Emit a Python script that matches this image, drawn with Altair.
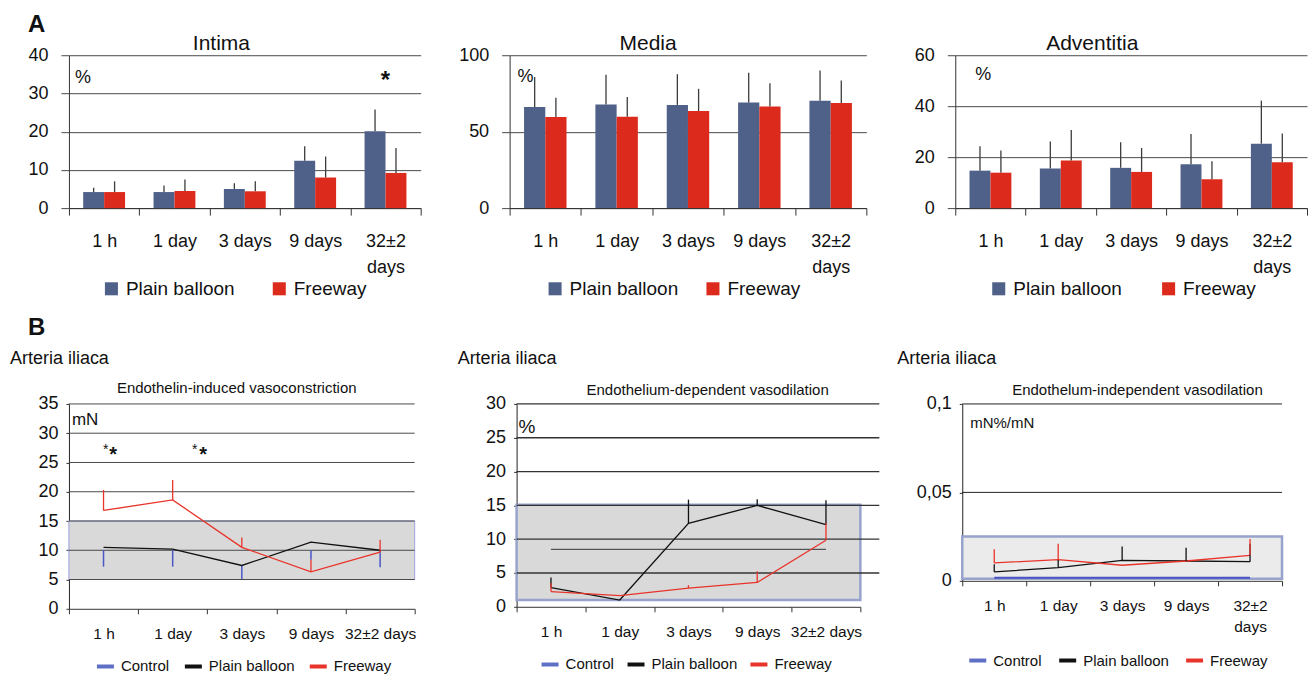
import altair as alt
import pandas as pd

# ---------------- data ----------------
CATS = ["1 h", "1 day", "3 days", "9 days", "32±2 days"]
BAR_SERIES = ["Plain balloon", "Freeway"]
LINE_SERIES = ["Control", "Plain balloon", "Freeway"]

# Panel A: morphometry (%), mean and upper end of error bar
intima_plain = [4.2, 4.2, 5.0, 12.4, 20.1]
intima_plain_hi = [5.3, 5.9, 6.5, 16.2, 25.8]
intima_free = [4.2, 4.5, 4.4, 8.0, 9.2]
intima_free_hi = [7.0, 7.5, 7.0, 13.5, 15.7]

media_plain = [66.2, 67.7, 67.5, 69.0, 70.3]
media_plain_hi = [85.8, 87.3, 87.6, 88.6, 90.0]
media_free = [59.6, 59.8, 63.5, 66.4, 68.8]
media_free_hi = [72.1, 72.7, 78.0, 81.7, 83.4]

adv_plain = [14.7, 15.5, 15.8, 17.2, 25.3]
adv_plain_hi = [24.3, 26.1, 25.8, 29.1, 42.2]
adv_free = [13.9, 18.7, 14.2, 11.3, 18.0]
adv_free_hi = [22.6, 30.7, 23.6, 18.4, 29.3]

# Panel B1: endothelin-induced vasoconstriction (mN)
vc_plain = [10.5, 10.2, 7.4, 11.4, 10.0]
vc_free = [16.8, 18.6, 10.5, 6.3, 9.7]
vc_free_hi = [20.3, 22.0, 12.2, 8.4, 11.8]
vc_ctrl_top = [10.0, 10.0, 7.4, 10.0, 10.0]
vc_ctrl_low = [7.2, 7.2, 5.1, 8.4, 7.1]
vc_box = [5.0, 15.0]

# Panel B2: endothelium-dependent vasodilation (%)
ed_plain = [2.85, 1.0, 12.35, 15.0, 12.15]
ed_plain_hi = [4.35, None, 15.85, 15.9, 15.75]
ed_free = [2.25, 1.65, 2.75, 3.6, 9.85]
ed_free_hi = [3.5, None, 3.2, 5.25, 12.35]
ed_ctrl = 8.5
ed_box = [1.0, 15.1]

# Panel B3: endothelium-independent vasodilation (mN%/mN)
ei_plain = [0.0050, 0.0075, 0.0116, 0.0112, 0.0108]
ei_plain_hi = [0.0093, 0.0118, 0.0194, 0.0187, 0.0209]
ei_free = [0.0101, 0.0120, 0.0088, 0.0112, 0.0144]
ei_free_hi = [0.0178, 0.0209, None, None, 0.0236]
ei_ctrl = 0.0017
ei_box = [0.0011, 0.025]

# ---------------- style ----------------
FONT = "Liberation Sans, Arial, sans-serif"
INK = "#111111"
BAR_COLORS = ["#4f6189", "#dc2b1d"]
LINE_COLORS = ["#5f6fc6", "#111111", "#e8342a"]
TWO_LINE = "datum.label == '32±2 days' ? ['32±2', 'days'] : datum.label"


def text_layer(txt, x, y, size, weight="normal", align="left"):
    return alt.Chart(pd.DataFrame({"t": [txt]})).mark_text(
        align=align, baseline="alphabetic", fontSize=size, font=FONT,
        fontWeight=weight, color=INK
    ).encode(text="t:N", x=alt.value(x), y=alt.value(y))


def bar_panel(title, plain, plain_hi, free, free_hi, ymax, yticks, width,
              title_x, legend_x, legend_pad, pct_xy, extra=()):
    rows = []
    for i, c in enumerate(CATS):
        rows.append(dict(cat=c, series="Plain balloon", v=plain[i], hi=plain_hi[i]))
        rows.append(dict(cat=c, series="Freeway", v=free[i], hi=free_hi[i]))
    df = pd.DataFrame(rows)
    x = alt.X("cat:N", sort=CATS, title=None,
              scale=alt.Scale(type="band", paddingInner=0, paddingOuter=0),
              axis=alt.Axis(tickBand="extent", tickSize=7, tickColor="#333",
                            domainColor="#333", labelPadding=17, labelFont=FONT,
                            labelFontSize=18, labelColor=INK, labelExpr=TWO_LINE,
                            labelLineHeight=26, labelAngle=0, grid=False))
    y = alt.Y("v:Q", title=None, scale=alt.Scale(domain=[0, ymax], nice=False),
              axis=alt.Axis(values=yticks, grid=True, gridColor="#4a4a4a",
                            tickSize=8, tickColor="#4a4a4a", domainColor="#333",
                            labelPadding=13, labelFont=FONT, labelFontSize=18,
                            labelColor=INK))
    xo = alt.XOffset("series:N", sort=BAR_SERIES,
                     scale=alt.Scale(paddingOuter=0.68, paddingInner=0))
    color = alt.Color("series:N", sort=BAR_SERIES,
                      scale=alt.Scale(domain=BAR_SERIES, range=BAR_COLORS),
                      legend=alt.Legend(orient="none", legendX=legend_x, legendY=224,
                                        direction="horizontal", columns=2, title=None,
                                        symbolType="square", symbolSize=170,
                                        symbolStrokeWidth=0, labelFont=FONT,
                                        labelFontSize=19, labelColor=INK,
                                        labelOffset=5, columnPadding=legend_pad))
    base = alt.Chart(df)
    bars = base.mark_bar().encode(x=x, y=y, xOffset=xo, color=color)
    err = base.mark_rule(color="#3c3c3c", strokeWidth=1.3).encode(
        x=x, y=y, y2="hi:Q", xOffset=xo)
    layers = [bars, err, text_layer("%", pct_xy[0], pct_xy[1], 18),
              text_layer(title, title_x, -5, 21)]
    for e in extra:
        layers.append(e(x, y))
    return alt.layer(*layers).properties(width=width, height=153)


def intima_star(x, y):
    return alt.Chart(pd.DataFrame({"cat": ["32±2 days"], "v": [31.3], "t": ["*"]})).mark_text(
        align="center", baseline="alphabetic", fontSize=24, fontWeight="bold",
        font=FONT, color=INK).encode(x=x, y=y, text="t:N")


def line_x(two_line, bandpos=None, lh=21):
    kw = dict(sort=CATS, title=None,
              scale=alt.Scale(type="band", paddingInner=0, paddingOuter=0),
              axis=alt.Axis(tickBand="extent", tickSize=5, tickColor="#333",
                            domainColor="#333", labelPadding=13, labelFont=FONT,
                            labelFontSize=15.5, labelColor=INK, labelAngle=0, grid=False,
                            labelExpr=TWO_LINE if two_line else "datum.label",
                            labelLineHeight=lh))
    if bandpos is not None:
        kw["bandPosition"] = bandpos
    return alt.X("cat:N", **kw)


def line_y(ymax, yticks, label_expr=None):
    ax = dict(values=yticks, grid=False, tickSize=3, tickColor="#333",
              domainColor="#222", labelPadding=8, labelFont=FONT, labelFontSize=18,
              labelColor=INK)
    if label_expr:
        ax["labelExpr"] = label_expr
    return alt.Y("v:Q", title=None, scale=alt.Scale(domain=[0, ymax], nice=False),
                 axis=alt.Axis(**ax))


def line_color(lx, ly, pad):
    return alt.Color("series:N",
                     scale=alt.Scale(domain=LINE_SERIES, range=LINE_COLORS),
                     legend=alt.Legend(orient="none", legendX=lx, legendY=ly,
                                       direction="horizontal", columns=3, title=None,
                                       symbolType="stroke", symbolStrokeWidth=4,
                                       symbolSize=289, labelFont=FONT,
                                       labelFontSize=15, labelColor=INK,
                                       labelOffset=5, columnPadding=pad))


def series_frames(plain, plain_hi, free, free_hi):
    rows, errs = [], []
    for name, vals, his in (("Plain balloon", plain, plain_hi), ("Freeway", free, free_hi)):
        for i, c in enumerate(CATS):
            rows.append(dict(cat=c, series=name, v=vals[i]))
            if his[i] is not None:
                errs.append(dict(cat=c, series=name, v=vals[i], hi=his[i]))
    return pd.DataFrame(rows), pd.DataFrame(errs)


def line_panel(title, title_xy, width, height, x, y, color, box, box_fill, box_stroke,
               box_sw, grid_vals, grid_w, grid_color, grid_sw, plain, plain_hi, free,
               free_hi, pre=(), post=()):
    box_df = pd.DataFrame({"v": [box[0]], "v2": [box[1]]})
    rect = alt.Chart(box_df).mark_rect(fill=box_fill, stroke=box_stroke,
                                       strokeWidth=box_sw).encode(
        x=alt.value(0), x2=alt.value(width), y=y, y2="v2:Q")
    grid = alt.Chart(pd.DataFrame({"v": grid_vals})).mark_rule(
        color=grid_color, strokeWidth=grid_sw).encode(
        x=alt.value(0), x2=alt.value(grid_w), y=y)
    df, edf = series_frames(plain, plain_hi, free, free_hi)
    lines = alt.Chart(df).mark_line(strokeWidth=1.3).encode(x=x, y=y, color=color)
    errs = alt.Chart(edf).mark_rule(strokeWidth=1.3).encode(x=x, y=y, y2="hi:Q", color=color)
    layers = ([rect, grid] + list(pre) + [lines, errs] + list(post)
              + [text_layer(title, title_xy[0], title_xy[1], 15),
                 text_layer("Arteria iliaca", title_xy[2], -40, 18)])
    return alt.layer(*layers).properties(width=width, height=height)


# ---------------- top row ----------------
a1 = bar_panel("Intima", intima_plain, intima_plain_hi, intima_free, intima_free_hi,
               40, [0, 10, 20, 30, 40], 352, 124, 33, 35, (6, 28),
               extra=(intima_star, lambda x, y: text_layer("A", -41, -23, 24, weight="bold")))
a2 = bar_panel("Media", media_plain, media_plain_hi, media_free, media_free_hi,
               100, [0, 50, 100], 357, 110, 36, 25, (8, 27))
a3 = bar_panel("Adventitia", adv_plain, adv_plain_hi, adv_free, adv_free_hi,
               60, [0, 20, 40, 60], 352, 91, 34, 37, (20, 25))

# ---------------- bottom row ----------------
W1, H1 = 346, 205
x1 = line_x(False)
y1 = line_y(35, [0, 5, 10, 15, 20, 25, 30, 35])
c1 = line_color(26, 252, 7)
ctrl1 = pd.DataFrame({"cat": CATS, "v": vc_ctrl_top, "lo": vc_ctrl_low})
ctrl1_layer = alt.Chart(ctrl1).mark_rule(color="#4b58c4", strokeWidth=1.5).encode(
    x=x1, y=y1, y2="lo:Q")


def star(cat, bp, v, size, weight):
    return alt.Chart(pd.DataFrame({"cat": [cat], "v": [v], "t": ["*"]})).mark_text(
        align="center", baseline="alphabetic", fontSize=size, fontWeight=weight,
        font=FONT, color=INK).encode(x=line_x(False, bp), y=y1, text="t:N")


b1 = line_panel("Endothelin-induced vasoconstriction", (48, -11, -59), W1, H1, x1, y1, c1,
                vc_box, "#d9d9d9", "#9ea2dc", 1, [5, 10, 15, 20, 25, 30, 35], W1,
                "#4a4a4a", 1, vc_plain, [None] * 5, vc_free, vc_free_hi,
                pre=[ctrl1_layer],
                post=[star("1 h", 0.53, 26.5, 14, "normal"),
                      star("1 h", 0.64, 25.3, 20, "bold"),
                      star("1 day", 0.82, 26.5, 14, "normal"),
                      star("1 day", 0.94, 25.3, 20, "bold"),
                      text_layer("mN", 3, 21, 17),
                      text_layer("B", -41, -69, 24, weight="bold")])

W2, H2 = 344, 203
x2 = line_x(False)
y2 = line_y(30, [0, 5, 10, 15, 20, 25, 30])
c2 = line_color(23, 250, 5)
ctrl2 = pd.DataFrame({"cat": [CATS[0], CATS[-1]], "v": [ed_ctrl, ed_ctrl]})
ctrl2_layer = alt.Chart(ctrl2).mark_line(color="#333333", strokeWidth=1).encode(x=x2, y=y2)
b2 = line_panel("Endothelium-dependent vasodilation", (70, -9, -59), W2, H2, x2, y2, c2,
                ed_box, "#d9d9d9", "#97a3cc", 2.5, [5, 10, 15, 20, 25, 30], 363,
                "#333333", 1.3, ed_plain, ed_plain_hi, ed_free, ed_free_hi,
                pre=[ctrl2_layer],
                post=[text_layer("%", 2, 29, 19)])

W3, H3 = 320, 177
x3 = line_x(True)
y3 = line_y(0.1, [0, 0.05, 0.1], label_expr="replace(toString(datum.value), '.', ',')")
c3 = line_color(5, 246, 9)
ctrl3 = pd.DataFrame({"cat": [CATS[0], CATS[-1]], "v": [ei_ctrl, ei_ctrl]})
ctrl3_layer = alt.Chart(ctrl3).mark_line(color="#4752c4", strokeWidth=2).encode(x=x3, y=y3)
b3 = line_panel("Endothelum-independent vasodilation", (50, -9, -65), W3, H3, x3, y3, c3,
                ei_box, "#ebebeb", "#97a3cc", 2.5, [0.05, 0.1], W3,
                "#222222", 1, ei_plain, ei_plain_hi, ei_free, ei_free_hi,
                pre=[ctrl3_layer],
                post=[text_layer("mN%/mN", 8, 24, 15)])

top = alt.hconcat(a1, a2, a3, spacing=89, bounds="flush").resolve_scale(
    color="independent", xOffset="independent").resolve_legend(color="independent")
bottom = alt.hconcat(b1, b2, b3, spacing=102, bounds="flush").resolve_scale(
    color="independent").resolve_legend(color="independent")

# nested rows count as zero height under flush bounds: spacing = row height + gap
chart = alt.vconcat(top, bottom, spacing=153 + 196, bounds="flush").resolve_scale(
    color="independent", xOffset="independent").resolve_legend(
    color="independent").properties(
    padding={"left": 2, "top": 5, "right": 0, "bottom": 0},
    background="white").configure_view(stroke=None)

chart.save("out.html", embed_options={"renderer": "svg", "actions": False})
